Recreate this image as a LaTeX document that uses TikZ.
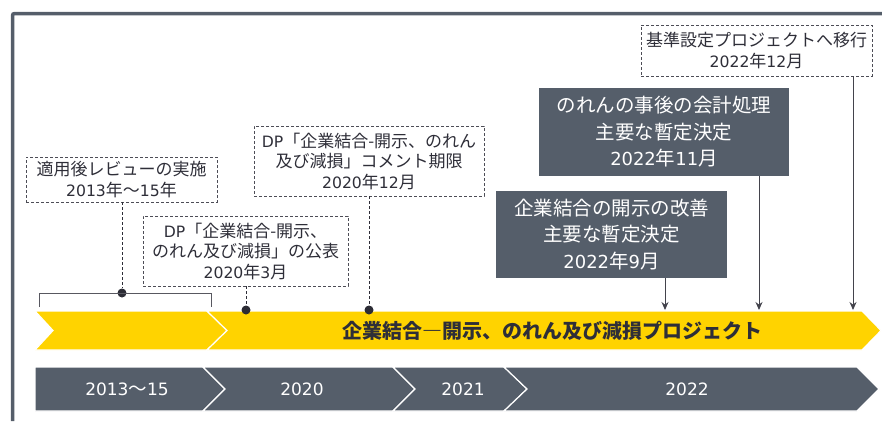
\documentclass[tikz,border=0pt]{standalone}
\usepackage{fontspec}
\setmainfont{Noto Sans CJK JP}
\newfontfamily\latf[Scale=0.92]{DejaVu Sans}
\newcommand\latn[1]{{\latf #1}}
\usetikzlibrary{arrows.meta}
\definecolor{eygray}{HTML}{555E6A}
\definecolor{eyyellow}{HTML}{FFD300}
\definecolor{eytext}{HTML}{2E2E38}
\begin{document}
\begin{tikzpicture}[x=1pt,y=-1pt,
  dbox/.style={draw=eytext!85, dash pattern=on 3pt off 2pt, line width=0.9pt, align=center, inner sep=0pt, text=eytext, font=\fontsize{17}{20.5}\selectfont},
  gbox/.style={fill=eygray, align=center, inner sep=0pt, text=white, font=\fontsize{19.5}{26.5}\selectfont},
  dconn/.style={draw=eytext, dash pattern=on 3pt off 2pt, line width=0.9pt},
  arr/.style={draw=eytext!90, line width=1pt, -{Stealth[length=8pt,width=7pt]}},
  dotn/.style={circle, fill=eytext!95!black, inner sep=0pt, minimum size=9pt},
  ychev/.style={fill=eyyellow, draw=white, line width=1.2pt},
  gchev/.style={fill=eygray, draw=white, line width=1.2pt},
  glabel/.style={text=white, font=\fontsize{18.5}{22}\selectfont},
]
\path[use as bounding box] (0,0) rectangle (882,421);
% frame
\draw[eygray, line width=3.5pt, rounded corners=2pt] (12.5,421) -- (12.5,13.5) -- (884,13.5);

% yellow bar
\path[ychev] (35,311) -- (207,311) -- (227,330.5) -- (207,350) -- (35,350) -- (53,330.5) -- cycle;
\path[ychev] (207,311) -- (862,311) -- (881,330.5) -- (862,350) -- (207,350) -- (227,330.5) -- cycle;
\node[font=\fontsize{20}{20}\selectfont\bfseries, text=eytext] (ybar) at (552,331) {企業結合―開示、のれん及び減損プロジェクト};

% gray bar
\path[gchev] (35,367) -- (203,367) -- (225,389) -- (203,411) -- (35,411) -- cycle;
\path[gchev] (203,367) -- (393,367) -- (415,389) -- (393,411) -- (203,411) -- (225,389) -- cycle;
\path[gchev] (393,367) -- (504,367) -- (527,389) -- (504,411) -- (393,411) -- (415,389) -- cycle;
\path[gchev] (504,367) -- (857,367) -- (879,389) -- (857,411) -- (504,411) -- (527,389) -- cycle;
\node[glabel] (g1) at (127,389) {\latn{2013}〜\latn{15}};
\node[glabel] (g2) at (302,389) {\latn{2020}};
\node[glabel] (g3) at (463,389) {\latn{2021}};
\node[glabel] (g4) at (687,389) {\latn{2022}};

% boxes
\node[dbox, minimum width=191pt, minimum height=45pt] (b1) at (121.5,179.5) {適用後レビューの実施\\\latn{2013}年〜\latn{15}年};
\node[dbox, minimum width=205pt, minimum height=70pt] (b2) at (245.5,251) {\latn{DP}「企業結合-開示、\\のれん及び減損」の公表\\\latn{2020}年\latn{3}月};
\node[dbox, minimum width=230pt, minimum height=70pt] (b3) at (369,161) {\latn{DP}「企業結合-開示、のれん\\及び減損」コメント期限\\\latn{2020}年\latn{12}月};
\node[gbox, minimum width=231pt, minimum height=87pt] (b4) at (611.5,234.5) {企業結合の開示の改善\\主要な暫定決定\\\latn{2022}年\latn{9}月};
\node[gbox, minimum width=250pt, minimum height=88pt] (b5) at (664,132) {のれんの事後の会計処理\\主要な暫定決定\\\latn{2022}年\latn{11}月};
\node[dbox, minimum width=231pt, minimum height=51pt] (b6) at (756.5,50.5) {基準設定プロジェクトへ移行\\\latn{2022}年\latn{12}月};

% bracket and dots
\node[dotn] (d1) at (122,293) {};
\node[dotn] (d2) at (246,310) {};
\node[dotn] (d3) at (369,310) {};
\coordinate (br1) at (39,307);
\coordinate (br2) at (211,307);
\draw[eytext!80, line width=0.9pt] (br1) -- (br1 |- d1) -- (br2 |- d1) -- (br2);
\draw[dconn] (b1.south -| d1) -- (d1);
\draw[dconn] (b2.south -| d2) -- (d2);
\draw[dconn] (b3.south -| d3) -- (d3);

% arrows
\coordinate (a4) at (665,310);
\coordinate (a5) at (759,310);
\coordinate (a6) at (853,310);
\draw[arr] (b4.south -| a4) -- (a4);
\draw[arr] (b5.south -| a5) -- (a5);
\draw[arr] (b6.south -| a6) -- (a6);
\end{tikzpicture}
\end{document}
